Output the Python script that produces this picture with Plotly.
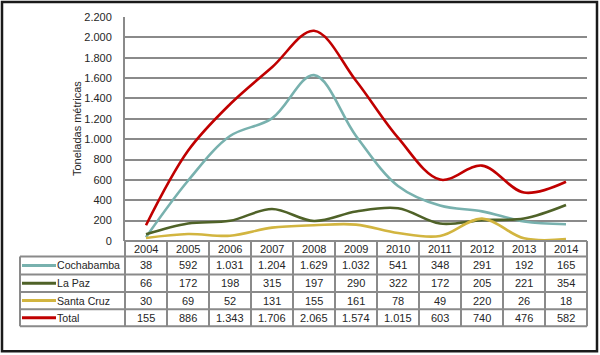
import plotly.graph_objects as go

years = ["2004", "2005", "2006", "2007", "2008", "2009", "2010", "2011", "2012", "2013", "2014"]
series_names = ["Cochabamba", "La Paz", "Santa Cruz", "Total"]
cochabamba = [38, 592, 1031, 1204, 1629, 1032, 541, 348, 291, 192, 165]
la_paz = [66, 172, 198, 315, 197, 290, 322, 172, 205, 221, 354]
santa_cruz = [30, 69, 52, 131, 155, 161, 78, 49, 220, 26, 18]
total = [155, 886, 1343, 1706, 2065, 1574, 1015, 603, 740, 476, 582]
y_ticks = [0, 200, 400, 600, 800, 1000, 1200, 1400, 1600, 1800, 2000, 2200]
y_title = "Toneladas métricas"

colors = ["#78b1ae", "#4f6228", "#d2b540", "#c00000"]
all_series = [cochabamba, la_paz, santa_cruz, total]

W, H = 600, 355
L, R, T, B = 125, 13, 17, 113.5
pw = W - L - R
ph = H - T - B

def px(xp):
    return (xp - L) / pw

def py(yp):
    return (H - B - yp) / ph

def fmt(v):
    return f"{v:,}".replace(",", ".")

fig = go.Figure()
for name, vals, c in zip(series_names, all_series, colors):
    fig.add_trace(go.Scatter(x=years, y=vals, mode="lines", name=name,
                             line=dict(color=c, width=2.6, shape="spline", smoothing=1.0),
                             showlegend=False, hoverinfo="skip"))

shapes = []
annotations = []
grid_c = "#8a8a8a"
n = len(years)
row_edges = [241.5, 257, 275, 292.5, 310, 327]
left_x = 20

def col_center(i):
    return (i + 0.5) / n

for k in range(n + 1):
    shapes.append(dict(type="line", xref="paper", yref="paper",
                       x0=k / n, x1=k / n, y0=py(row_edges[0]), y1=py(row_edges[-1]),
                       line=dict(color=grid_c, width=2)))
for i, ye in enumerate(row_edges):
    x0 = 0 if i == 0 else px(left_x)
    shapes.append(dict(type="line", xref="paper", yref="paper",
                       x0=x0, x1=1, y0=py(ye), y1=py(ye),
                       line=dict(color=grid_c, width=2)))
shapes.append(dict(type="line", xref="paper", yref="paper",
                   x0=px(left_x), x1=px(left_x), y0=py(row_edges[1]), y1=py(row_edges[-1]),
                   line=dict(color=grid_c, width=2)))

FAM = "Liberation Sans, Arial, sans-serif"
font = dict(family=FAM, size=11, color="#262626")
label_font = dict(family=FAM, size=10.6, color="#262626")
for i, yr in enumerate(years):
    annotations.append(dict(x=col_center(i), xref="paper", y=py((row_edges[0] + row_edges[1]) / 2), yref="paper",
                            text=yr, showarrow=False, font=font, xanchor="center", yanchor="middle"))
for r, (name, vals, c) in enumerate(zip(series_names, all_series, colors)):
    yc = py((row_edges[r + 1] + row_edges[r + 2]) / 2)
    shapes.append(dict(type="line", xref="paper", yref="paper",
                       x0=px(22), x1=px(56), y0=yc, y1=yc,
                       line=dict(color=c, width=3)))
    annotations.append(dict(x=px(55), xref="paper", y=yc, yref="paper", text=name,
                            showarrow=False, font=label_font, xanchor="left", yanchor="middle"))
    for i, v in enumerate(vals):
        annotations.append(dict(x=col_center(i), xref="paper", y=yc, yref="paper", text=fmt(v),
                                showarrow=False, font=font, xanchor="center", yanchor="middle"))

shapes.append(dict(type="rect", xref="paper", yref="paper",
                   x0=px(2), x1=px(597), y0=py(352), y1=py(2),
                   line=dict(color="#1a1a1a", width=2.5), fillcolor="rgba(0,0,0,0)"))

annotations.append(dict(x=px(77), xref="paper", y=0.5, yref="paper", text=y_title,
                        textangle=-90, showarrow=False,
                        font=dict(family=FAM, size=11, color="#262626"),
                        xanchor="center", yanchor="middle"))

fig.update_layout(
    width=W, height=H,
    margin=dict(l=L, r=R, t=T, b=B),
    paper_bgcolor="white", plot_bgcolor="white",
    separators=",.",
    shapes=shapes, annotations=annotations,
    hovermode=False,
    xaxis=dict(type="category", range=[-0.5, n - 0.5], showticklabels=False, showgrid=False,
               zeroline=False, showline=False, ticks="", fixedrange=True),
    yaxis=dict(range=[0, 2200], tickvals=y_ticks, ticktext=[fmt(v) for v in y_ticks],
               showgrid=True, gridcolor=grid_c, gridwidth=2, zeroline=False,
               showline=True, linecolor=grid_c, linewidth=2, ticks="", fixedrange=True,
               tickfont=dict(family=FAM, size=11, color="#262626"),
               ticklabelstandoff=9),
)

fig.write_html("out.html", config={"displayModeBar": False},
               post_script="document.body.style.margin='0';document.body.style.overflow='hidden';")
